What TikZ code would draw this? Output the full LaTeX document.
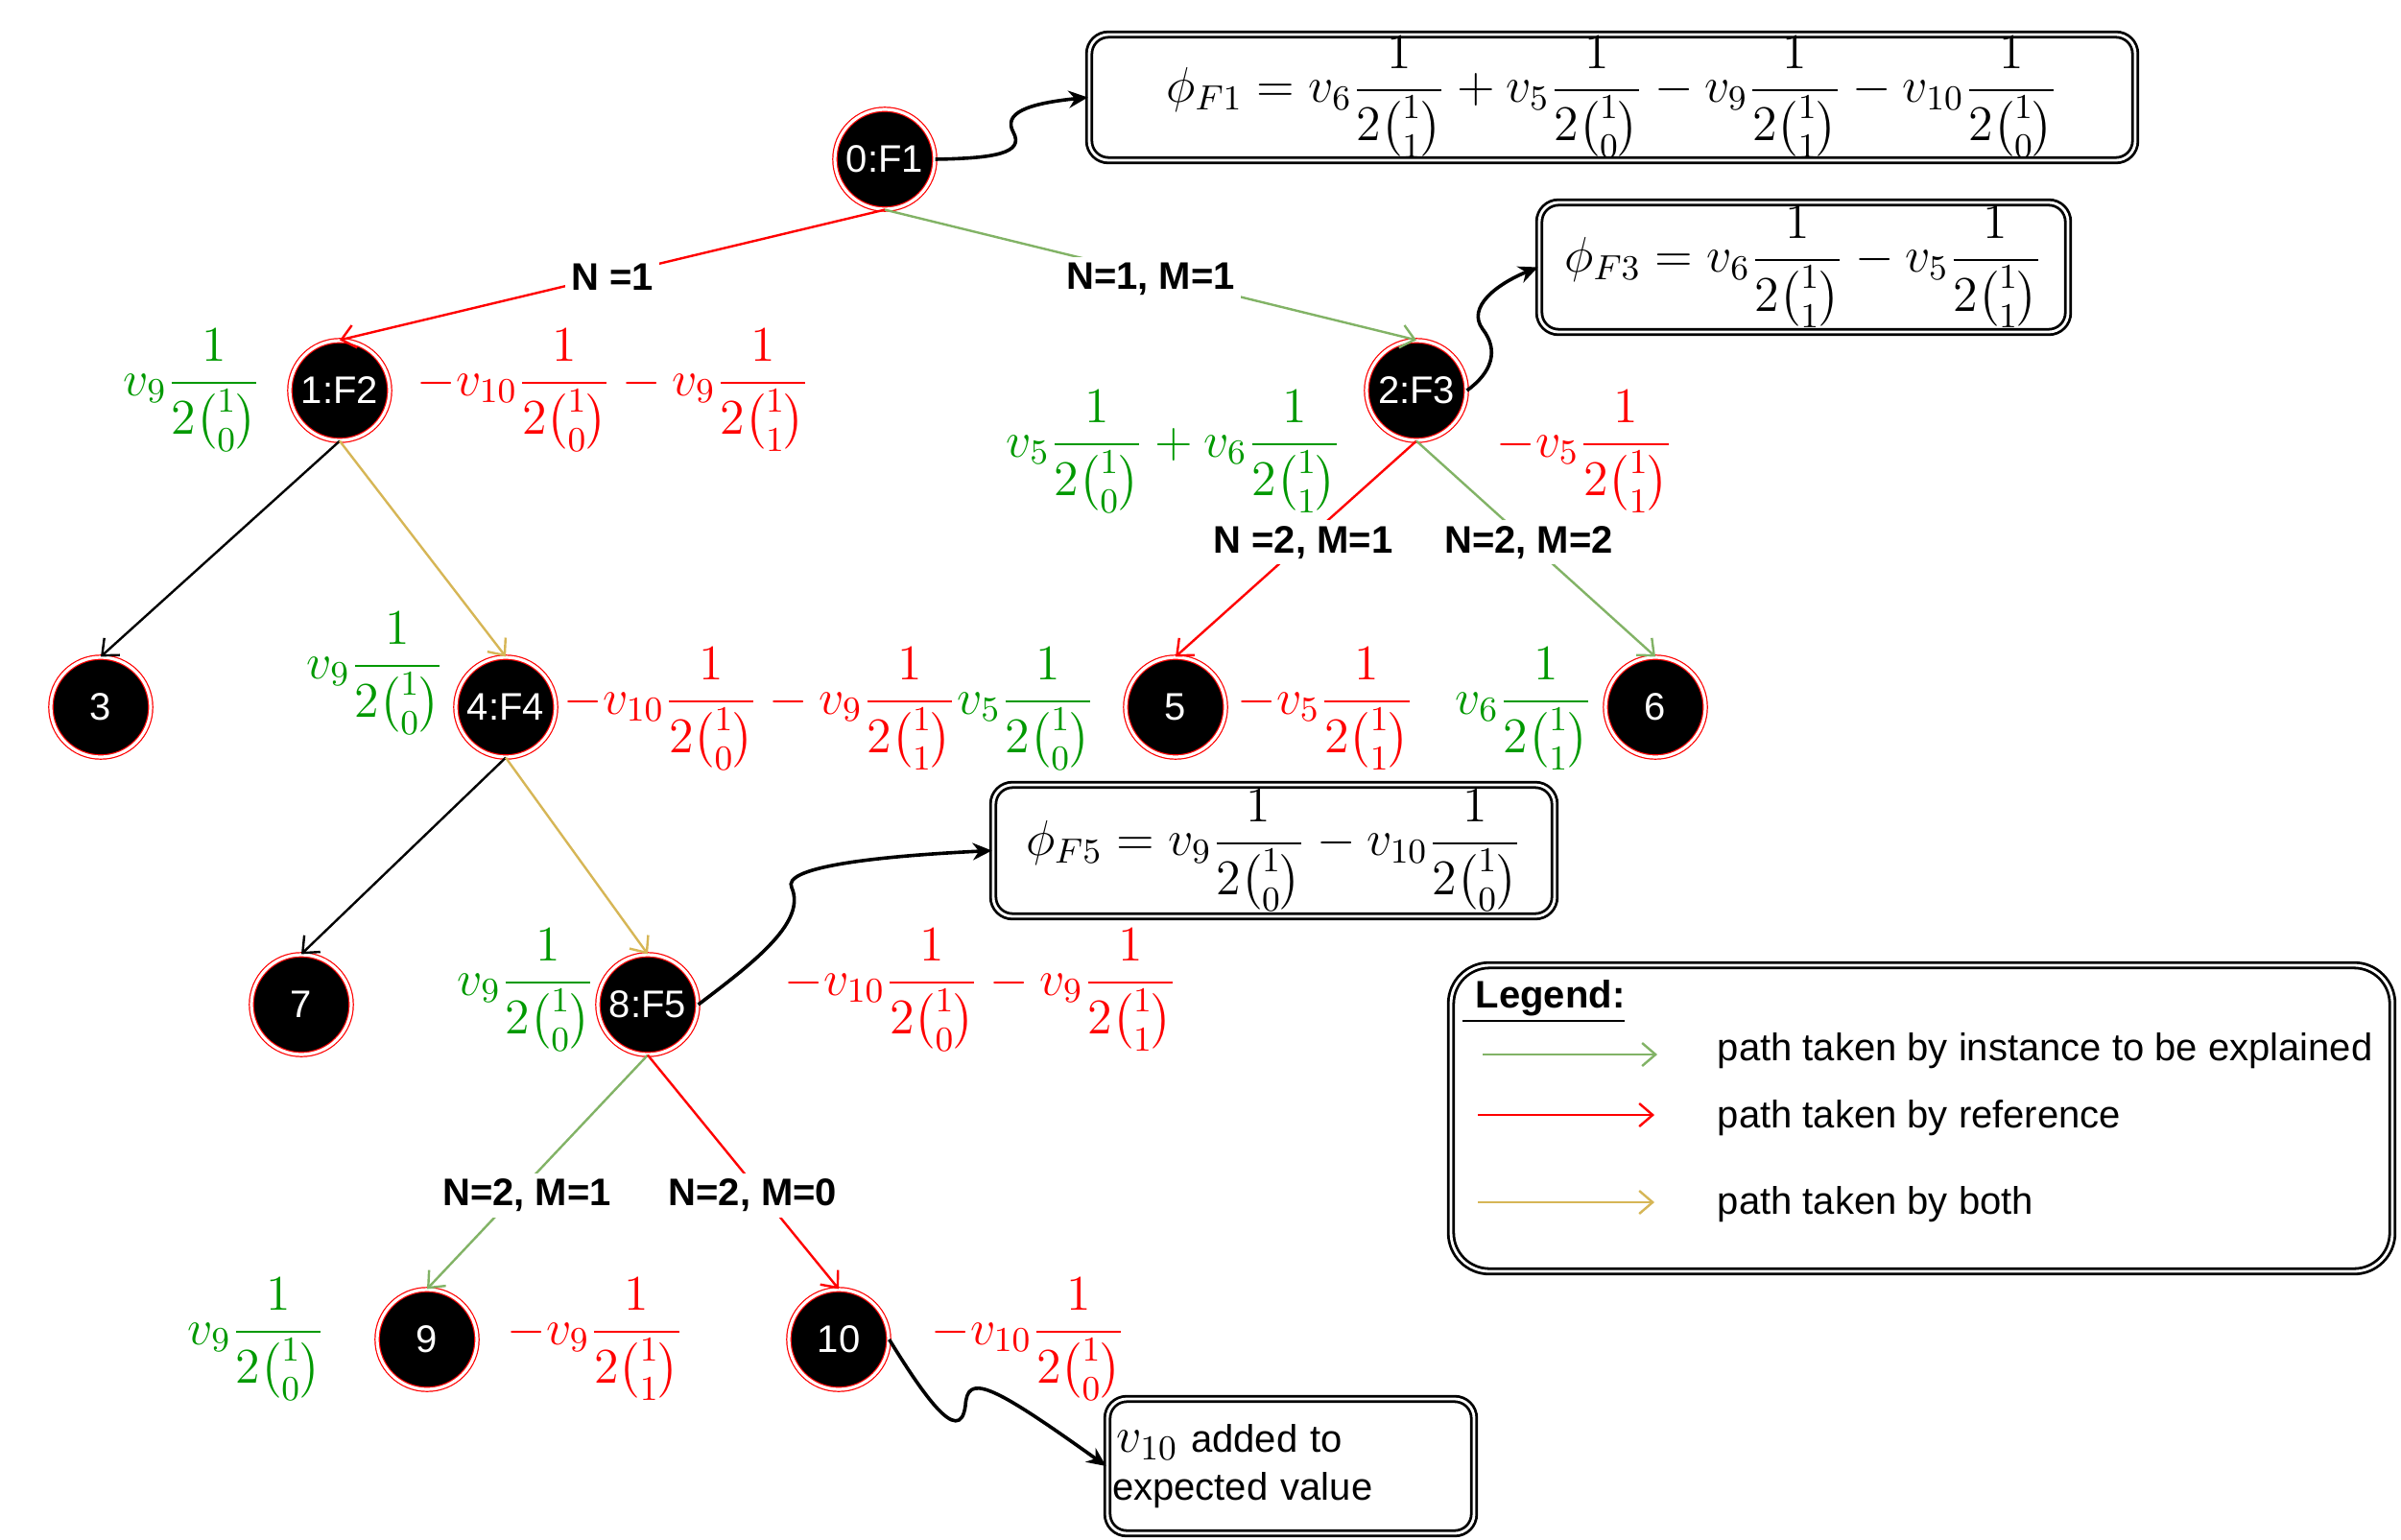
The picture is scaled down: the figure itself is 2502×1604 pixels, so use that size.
\RequirePackage{fix-cm}
\documentclass[tikz,border=0pt]{standalone}
\usepackage{amsmath}
\usepackage{fontspec}
\setsansfont{Liberation Sans}
\usetikzlibrary{arrows.meta}

\definecolor{pathgreen}{HTML}{82B366}
\definecolor{pathgold}{HTML}{D6B656}
\definecolor{mathgreen}{RGB}{0,153,0}

\tikzset{
  tnode/.style={circle, fill=black, draw=red, double=white, double distance=0.8pt,
    line width=0.3pt, minimum size=26pt, inner sep=0pt, text=white,
    font=\sffamily\fontsize{10}{12}\selectfont},
  tedge/.style={line width=0.6pt, -{Straight Barb[length=3.5pt,width=6pt]}},
  greenedge/.style={tedge, pathgreen},
  rededge/.style={tedge, red},
  goldedge/.style={tedge, pathgold},
  blackedge/.style={tedge, black},
  lbl/.style={fill=white, inner sep=1.5pt, text=black,
    font=\sffamily\bfseries\fontsize{10}{12}\selectfont},
  mth/.style={inner sep=0pt, anchor=base west, font=\fontsize{13}{15}\selectfont},
  gm/.style={mth, text=mathgreen},
  rm/.style={mth, text=red},
  eqbox/.style={draw, double, double distance=0.7pt, line width=0.7pt,
    rounded corners=5pt, inner sep=0pt, font=\fontsize{13}{15}\selectfont},
  snake/.style={line width=0.9pt, -{Stealth[length=5pt,width=4.5pt]}},
  legtext/.style={inner sep=0pt, anchor=base west, font=\sffamily\fontsize{10}{12}\selectfont},
}

\newcommand{\fr}[2]{\frac{1}{2\binom{#1}{#2}}}

\begin{document}
\begin{tikzpicture}[x=0.25pt, y=-0.25pt]
\useasboundingbox (0,0) rectangle (2502,1604);

% tree nodes
\node[tnode] (n0)  at (922,166)   {0:F1};
\node[tnode] (n1)  at (354,407)   {1:F2};
\node[tnode] (n2)  at (1476,407)  {2:F3};
\node[tnode] (n3)  at (105,737)   {3};
\node[tnode] (n4)  at (527,737)   {4:F4};
\node[tnode] (n5)  at (1225,737)  {5};
\node[tnode] (n6)  at (1725,737)  {6};
\node[tnode] (n7)  at (314,1047)  {7};
\node[tnode] (n8)  at (675,1047)  {8:F5};
\node[tnode] (n9)  at (445,1396)  {9};
\node[tnode] (n10) at (874,1396)  {10};

% tree edges
\draw[rededge]   (n0.south) -- node[lbl, yshift=-0.5pt] {N =1} (n1.north);
\draw[greenedge] (n0.south) -- node[lbl, yshift=-1pt] {N=1, M=1} (n2.north);
\draw[blackedge] (n1.south) -- (n3.north);
\draw[goldedge]  (n1.south) -- (n4.north);
\draw[rededge]   (n2.south) -- node[lbl, pos=0.47] {N =2, M=1} (n5.north);
\draw[greenedge] (n2.south) -- node[lbl, pos=0.47] {N=2, M=2} (n6.north);
\draw[blackedge] (n4.south) -- (n7.north);
\draw[goldedge]  (n4.south) -- (n8.north);
\draw[greenedge] (n8.south) -- node[lbl, pos=0.6, xshift=3pt] {N=2, M=1} (n9.north);
\draw[rededge]   (n8.south) -- node[lbl, pos=0.6, xshift=-2.5pt] {N=2, M=0} (n10.north);

% contributions along the paths
\node[gm] (g1)  at (128,412)  {$\displaystyle v_9\fr{1}{0}$};
\node[rm] (r1)  at (434,412)  {$\displaystyle -v_{10}\fr{1}{0} - v_9\fr{1}{1}$};
\node[gm] (g2)  at (1048,476) {$\displaystyle v_5\fr{1}{0} + v_6\fr{1}{1}$};
\node[rm] (r2)  at (1559,476) {$\displaystyle -v_5\fr{1}{1}$};
\node[gm] (g4)  at (319,707)  {$\displaystyle v_9\fr{1}{0}$};
\node[rm] (r4)  at (587,744)  {$\displaystyle -v_{10}\fr{1}{0} - v_9\fr{1}{1}$};
\node[gm] (g5)  at (997,744)  {$\displaystyle v_5\fr{1}{0}$};
\node[rm] (r5)  at (1289,744) {$\displaystyle -v_5\fr{1}{1}$};
\node[gm] (g6)  at (1516,744) {$\displaystyle v_6\fr{1}{1}$};
\node[gm] (g8)  at (476,1037) {$\displaystyle v_9\fr{1}{0}$};
\node[rm] (r8)  at (817,1037) {$\displaystyle -v_{10}\fr{1}{0} - v_9\fr{1}{1}$};
\node[gm] (g9)  at (195,1401) {$\displaystyle v_9\fr{1}{0}$};
\node[rm] (r9)  at (528,1401) {$\displaystyle -v_9\fr{1}{1}$};
\node[rm] (r10) at (970,1401) {$\displaystyle -v_{10}\fr{1}{0}$};

% value boxes
\node[eqbox, minimum width=272.5pt, minimum height=32.75pt] (bf1) at (1680,101.5)
  {$\displaystyle \phi_{F1} = v_6\fr{1}{1} + v_5\fr{1}{0} - v_9\fr{1}{1} - v_{10}\fr{1}{0}$};
\node[eqbox, minimum width=137.75pt, minimum height=33.75pt] (bf3) at (1879.5,278.5)
  {$\displaystyle \phi_{F3} = v_6\fr{1}{1} - v_5\fr{1}{1}$};
\node[eqbox, minimum width=146.25pt, minimum height=34.25pt] (bf5) at (1327.5,886.5)
  {$\displaystyle \phi_{F5} = v_9\fr{1}{0} - v_{10}\fr{1}{0}$};
\node[eqbox, minimum width=95.5pt, minimum height=35pt, text width=93pt, align=left,
  inner xsep=1pt, font=\sffamily\fontsize{10}{12.5}\selectfont] (bv) at (1345,1528)
  {\hspace{1.2pt}{\fontsize{13}{15}\selectfont$v_{10}$} added to\\expected value};

% wavy pointers to the boxes
\coordinate (w0) at (1056,138);
\coordinate (w2) at (1545,343);
\coordinate (w8) at (825,925);
\coordinate (w10) at (1006,1465);
\draw[snake] (n0.east) .. controls (1035,165) and (1068,160) .. (w0)
  .. controls (1045,118) and (1070,108) .. (bf1.west);
\draw[snake] (n2.east) .. controls (1555,388) and (1562,365) .. (w2)
  .. controls (1528,320) and (1560,296) .. (bf3.west);
\draw[snake] (n8.east) .. controls (790,1000) and (840,960) .. (w8)
  .. controls (815,905) and (900,893) .. (bf5.west);
\draw[snake] (n10.east) .. controls (960,1450) and (1000,1510) .. (w10)
  .. controls (1008,1432) and (1030,1440) .. (bv.west);

% legend
\node[draw, double, double distance=0.7pt, line width=0.7pt, rounded corners=10pt,
  minimum width=245.25pt, minimum height=79.75pt, inner sep=0pt] (legend) at (2002.5,1165.5) {};
\node[legtext, font=\sffamily\bfseries\fontsize{10}{12}\selectfont] (legtitle) at (1523,1050)
  {\underline{\hspace{3.5pt}Legend:}};
\coordinate (la1) at (1545,1099);
\coordinate (lb1) at (1727,1099);
\coordinate (la2) at (1540,1162);
\coordinate (lb2) at (1724,1162);
\coordinate (la3) at (1540,1253);
\coordinate (lb3) at (1724,1253);
\draw[greenedge] (la1) -- (lb1);
\draw[rededge]   (la2) -- (lb2);
\draw[goldedge]  (la3) -- (lb3);
\node[legtext] (lt1) at (1789,1105) {path taken by instance to be explained};
\node[legtext] (lt2) at (1789,1175) {path taken by reference};
\node[legtext] (lt3) at (1789,1265) {path taken by both};
\end{tikzpicture}
\end{document}
